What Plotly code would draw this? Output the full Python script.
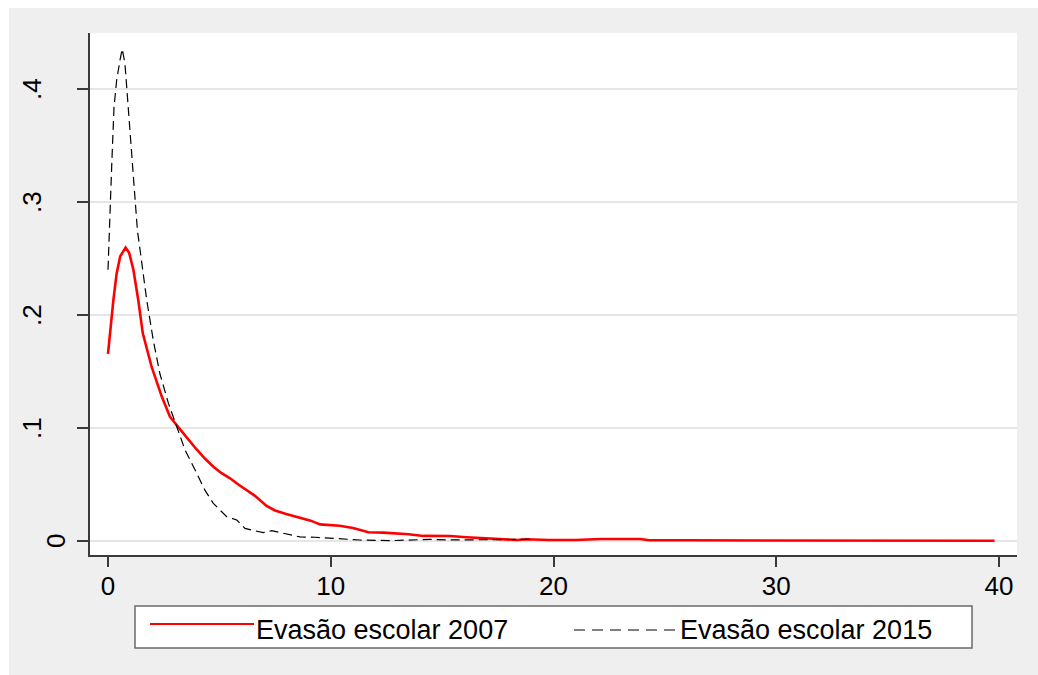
import plotly.graph_objects as go

# ---- data ----
x_2007 = [0, 0.09, 0.24, 0.39, 0.55, 0.79, 0.95, 1.14, 1.36, 1.56,
          1.96, 2.41, 2.78, 3.2, 3.6, 3.98, 4.35, 4.73, 5.1, 5.48,
          5.85, 6.23, 6.6, 7.12, 7.5, 8.0, 8.62, 9.1, 9.52, 10.0,
          10.4, 11.0, 11.69, 12.36, 12.96, 13.5, 14.15, 15.35, 16.1, 17.3,
          18.35, 18.8, 19.8, 21.0, 22.1, 23.9, 24.3, 26, 28.7, 29.3,
          30.8, 31.0, 33.0, 33.2, 34.5, 34.7, 36, 38, 39.8]
y_2007 = [0.1655, 0.184, 0.213, 0.237, 0.252, 0.2596, 0.255, 0.240, 0.213, 0.184,
          0.154, 0.128, 0.110, 0.0997, 0.090, 0.081, 0.073, 0.0658, 0.060, 0.0555,
          0.050, 0.0451, 0.040, 0.0310, 0.027, 0.024, 0.0205, 0.018, 0.0147, 0.0137,
          0.0135, 0.0115, 0.0077, 0.0074, 0.0068, 0.006, 0.0045, 0.0044, 0.0033, 0.0021,
          0.0009, 0.0015, 0.0009, 0.0009, 0.0018, 0.0018, 0.0007, 0.0006, 0.0006, 0.0001,
          0.0006, 0.0005, 0.0002, 0.0006, 0.0006, 0.0002, 0.0002, 0.0002, 0.0002]

x_2015 = [0, 0.06, 0.17, 0.27, 0.39, 0.54, 0.64, 0.76, 0.87, 0.99,
          1.11, 1.21, 1.32, 1.44, 1.74, 2.03, 2.33, 2.71, 3.16, 3.46,
          3.98, 4.35, 4.73, 5.33, 5.78, 6.15, 6.5, 6.97, 7.35, 8.02,
          8.62, 9.3, 10.1, 10.72, 11.3, 12.66, 14.46, 15.35, 17.75, 18.35,
          19.0]
y_2015 = [0.24, 0.278, 0.334, 0.384, 0.408, 0.4257, 0.4354, 0.4227, 0.393, 0.3637,
          0.334, 0.3047, 0.275, 0.2575, 0.213, 0.178, 0.148, 0.122, 0.098, 0.0805,
          0.060, 0.045, 0.0333, 0.0215, 0.0186, 0.0112, 0.0095, 0.0074, 0.0091, 0.0062,
          0.0036, 0.0033, 0.0024, 0.0015, 0.0009, 0.0003, 0.0015, 0.0009, 0.0009, 0.0015,
          0.0015]

series_names = ["Evasão escolar 2007", "Evasão escolar 2015"]
x_tick_vals = [0, 10, 20, 30, 40]
x_tick_text = ["0", "10", "20", "30", "40"]
y_tick_vals = [0, 0.1, 0.2, 0.3, 0.4]
y_tick_text = ["0", ".1", ".2", ".3", ".4"]

# ---- layout geometry (pixels) ----
W, H = 1038, 675
L, R, T, B = 90, 1017, 33, 555
PW, PH = R - L, B - T

def px_x(p):
    return (p - L) / PW

def px_y(p):
    return (B - p) / PH

FONT = "Liberation Sans, Arial, sans-serif"
GRAY_BG = "#efefef"
AXIS_COL = "#3a3a3a"
GRID_COL = "#e6e6e6"

fig = go.Figure()
fig.add_trace(go.Scatter(x=x_2007, y=y_2007, mode="lines", name=series_names[0],
                         line=dict(color="#ff0000", width=2.6), showlegend=False))
fig.add_trace(go.Scatter(x=x_2015, y=y_2015, mode="lines", name=series_names[1],
                         line=dict(color="#000000", width=1.2, dash="9px,5px"),
                         showlegend=False))

shapes = []
# white strips at top and left of the gray background
shapes.append(dict(type="rect", xref="paper", yref="paper", layer="below",
                   x0=px_x(-5), x1=px_x(W + 5), y0=px_y(8), y1=px_y(-5),
                   fillcolor="white", line=dict(width=0)))
shapes.append(dict(type="rect", xref="paper", yref="paper", layer="below",
                   x0=px_x(-5), x1=px_x(9), y0=px_y(H + 5), y1=px_y(-5),
                   fillcolor="white", line=dict(width=0)))
# legend box
shapes.append(dict(type="rect", xref="paper", yref="paper",
                   x0=px_x(135), x1=px_x(972), y0=px_y(648), y1=px_y(606),
                   fillcolor="white", line=dict(color="#6a6a6a", width=1.5)))
# legend samples
shapes.append(dict(type="line", xref="paper", yref="paper",
                   x0=px_x(150), x1=px_x(254), y0=px_y(624), y1=px_y(624),
                   line=dict(color="#ff0000", width=2)))
shapes.append(dict(type="line", xref="paper", yref="paper",
                   x0=px_x(574), x1=px_x(680), y0=px_y(630), y1=px_y(630),
                   line=dict(color="#000000", width=1, dash="11px,7px")))

annotations = []
annotations.append(dict(xref="paper", yref="paper", x=px_x(254), y=px_y(630),
                        xanchor="left", yanchor="middle", showarrow=False,
                        text=series_names[0], font=dict(family=FONT, size=27, color="#000")))
annotations.append(dict(xref="paper", yref="paper", x=px_x(678), y=px_y(630),
                        xanchor="left", yanchor="middle", showarrow=False,
                        text=series_names[1], font=dict(family=FONT, size=27, color="#000")))
# rotated y tick labels; the "0" label sits closer to the axis in the reference
label_right_px = {"0": 73, ".1": 49, ".2": 49, ".3": 49, ".4": 49}
for v, t in zip(y_tick_vals, y_tick_text):
    annotations.append(dict(xref="paper", yref="y", x=px_x(label_right_px[t]), y=v,
                            xanchor="right", yanchor="middle", showarrow=False,
                            textangle=-90, text=t,
                            font=dict(family=FONT, size=26, color="#000")))

fig.update_layout(
    width=W, height=H,
    margin=dict(l=L, r=W - R, t=T, b=H - B, pad=0),
    paper_bgcolor=GRAY_BG, plot_bgcolor="white",
    showlegend=False,
    font=dict(family=FONT, size=25, color="#000"),
    shapes=shapes, annotations=annotations,
    xaxis=dict(range=[(L - 108) / 22.275, (R - 108) / 22.275],
               tickmode="array", tickvals=x_tick_vals, ticktext=x_tick_text,
               ticks="outside", ticklen=10, tickwidth=1.5, tickcolor=AXIS_COL,
               showline=True, linecolor=AXIS_COL, linewidth=1.5,
               showgrid=False, zeroline=False, mirror=False,
               ticklabelstandoff=-3,
               tickfont=dict(family=FONT, size=26, color="#000")),
    yaxis=dict(range=[(541 - B) / 1130, (541 - T) / 1130],
               tickmode="array", tickvals=y_tick_vals, ticktext=y_tick_text,
               showticklabels=False,
               ticks="outside", ticklen=11, tickwidth=1.5, tickcolor=AXIS_COL,
               showline=True, linecolor=AXIS_COL, linewidth=1.5,
               showgrid=True, gridcolor=GRID_COL, gridwidth=2,
               zeroline=True, zerolinecolor=GRID_COL, zerolinewidth=2, mirror=False),
)

fig.write_html("out.html", config={"displayModeBar": False})
